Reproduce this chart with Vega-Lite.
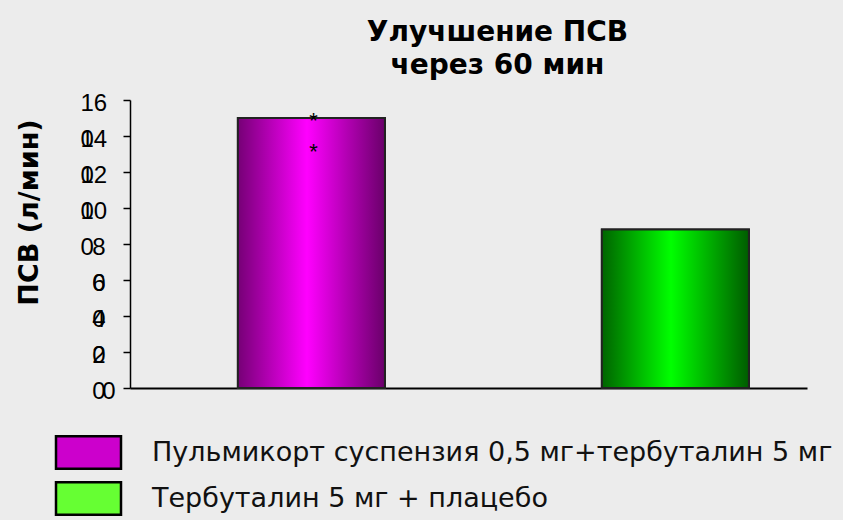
{
  "$schema": "https://vega.github.io/schema/vega-lite/v6.json",
  "width": 677,
  "height": 288,
  "autosize": "none",
  "padding": {"left": 130, "top": 100, "right": 36, "bottom": 132},
  "background": "#ececec",
  "title": {
    "text": ["Улучшение ПСВ", "через 60 мин"],
    "anchor": "middle",
    "frame": "group",
    "dx": 29,
    "offset": 11,
    "font": "DejaVu Sans",
    "fontSize": 28,
    "fontWeight": "bold",
    "lineHeight": 33,
    "color": "#000000"
  },
  "config": {
    "view": {"stroke": null},
    "font": "Liberation Sans",
    "legend": {"rowPadding": 3}
  },
  "data": {
    "values": [
      {"group": "Пульмикорт суспензия 0,5 мг+тербуталин 5 мг", "value": 150, "sig": ["*", "*"]},
      {"group": "Тербуталин 5 мг + плацебо", "value": 88}
    ]
  },
  "encoding": {
    "x": {
      "field": "group",
      "type": "nominal",
      "sort": null,
      "scale": {"paddingInner": 0.596, "paddingOuter": 0.228, "align": 0.65},
      "axis": {
        "labels": false,
        "ticks": false,
        "title": null,
        "domainColor": "#000000",
        "domainWidth": 2
      }
    },
    "y": {
      "field": "value",
      "type": "quantitative",
      "scale": {"domain": [0, 160], "nice": false},
      "axis": {
        "values": [0, 20, 40, 60, 80, 100, 120, 140, 160],
        "labelExpr": "datum.value === 0 ? '0' : [slice(datum.label, 0, -1), '0']",
        "labelOverlap": false,
        "labelBound": false,
        "labelLineHeight": 36,
        "labelFontSize": 24,
        "labelFont": "Liberation Sans",
        "labelColor": "#000000",
        "labelAlign": {
          "condition": {"test": "datum.value >= 100", "value": "left"},
          "value": "right"
        },
        "labelPadding": {
          "condition": [
            {"test": "datum.value >= 100", "value": 43},
            {"test": "datum.value === 0", "value": 8}
          ],
          "value": 18
        },
        "labelBaseline": "middle",
        "labelOffset": 3,
        "grid": false,
        "domainColor": "#000000",
        "domainWidth": 1.5,
        "tickColor": "#000000",
        "tickWidth": 1.5,
        "tickSize": 7,
        "title": "ПСВ (л/мин)",
        "titleFont": "DejaVu Sans",
        "titleFontSize": 27,
        "titleFontWeight": "bold",
        "titleColor": "#000000",
        "titleX": -101,
        "titleY": 112,
        "titleAlign": "center",
        "titleBaseline": "middle",
        "titleAngle": -90
      }
    }
  },
  "layer": [
    {
      "mark": {"type": "bar", "stroke": "#222222", "strokeWidth": 2},
      "encoding": {
        "color": {
          "field": "group",
          "type": "nominal",
          "sort": null,
          "scale": {"range": ["#cc00cc", "#66ff33"]},
          "legend": {
            "title": null,
            "orient": "none",
            "legendX": -59,
            "legendY": 335,
            "direction": "vertical",
            "symbolType": "M-2,-1H2V1H-2Z",
            "symbolSize": 1056,
            "symbolStrokeColor": "#000000",
            "symbolStrokeWidth": 2.5,
            "symbolOpacity": 1,
            "labelOffset": 46,
            "labelFont": "DejaVu Sans",
            "labelFontSize": 27,
            "labelColor": "#111111",
            "labelLimit": 800
          }
        }
      }
    },
    {
      "transform": [{"filter": "datum.group === 'Пульмикорт суспензия 0,5 мг+тербуталин 5 мг'"}],
      "mark": {
        "type": "bar",
        "stroke": "#222222",
        "strokeWidth": 2,
        "color": {
          "gradient": "linear",
          "x1": 0, "x2": 1, "y1": 0, "y2": 0,
          "stops": [
            {"offset": 0, "color": "#760076"},
            {"offset": 0.47, "color": "#ff00ff"},
            {"offset": 1, "color": "#6a006a"}
          ]
        }
      }
    },
    {
      "transform": [{"filter": "datum.group === 'Тербуталин 5 мг + плацебо'"}],
      "mark": {
        "type": "bar",
        "stroke": "#222222",
        "strokeWidth": 2,
        "color": {
          "gradient": "linear",
          "x1": 0, "x2": 1, "y1": 0, "y2": 0,
          "stops": [
            {"offset": 0, "color": "#006400"},
            {"offset": 0.47, "color": "#00ff00"},
            {"offset": 1, "color": "#005c00"}
          ]
        }
      }
    },
    {
      "transform": [{"filter": "isValid(datum.sig)"}],
      "mark": {
        "type": "text",
        "font": "Liberation Sans",
        "fontSize": 22,
        "color": "#000000",
        "baseline": "top",
        "lineHeight": 31,
        "dy": -7,
        "dx": 2
      },
      "encoding": {
        "text": {"field": "sig", "type": "nominal"}
      }
    }
  ]
}
